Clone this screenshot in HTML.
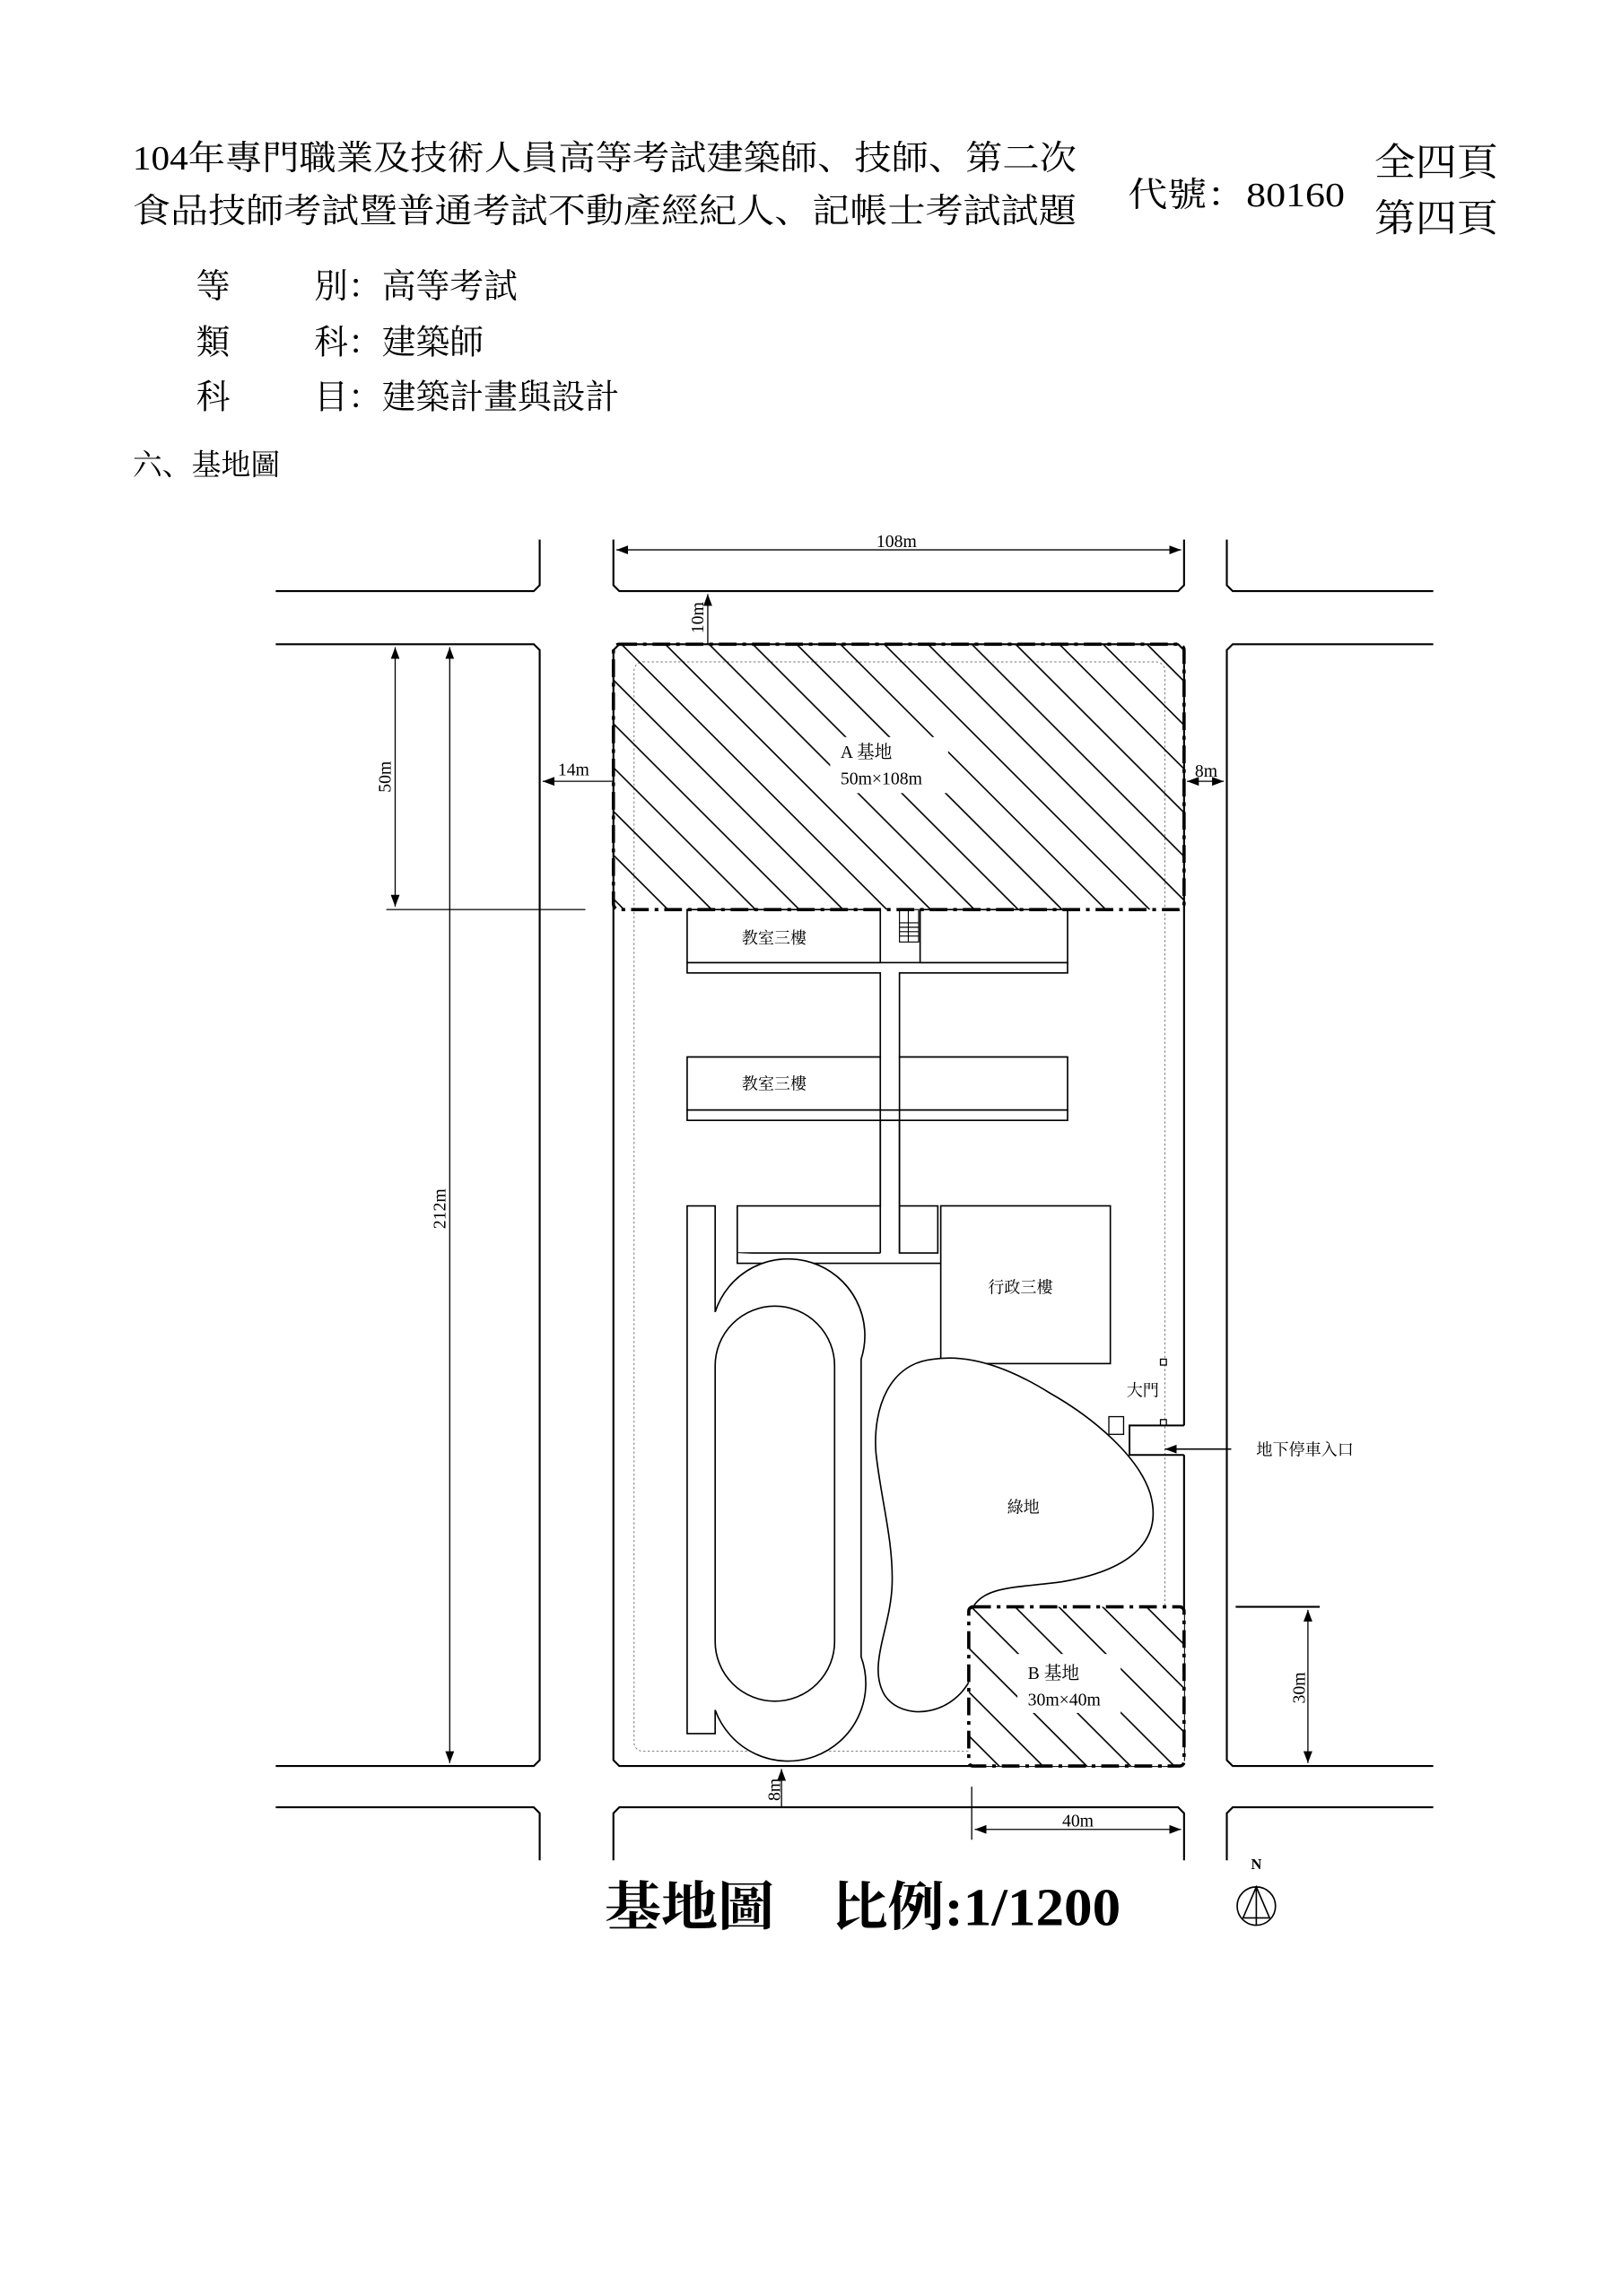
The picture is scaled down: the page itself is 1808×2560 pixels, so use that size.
<!DOCTYPE html>
<html><head><meta charset="utf-8"><style>
html,body{margin:0;padding:0;background:#fff;}
svg{display:block;}
.t{font-family:"Liberation Serif","Noto Serif CJK SC",serif;fill:#000;}
</style></head><body>
<svg width="1808" height="2560" viewBox="0 0 1100 1557.5" xmlns="http://www.w3.org/2000/svg">
<defs>
<pattern id="h" width="21" height="21" patternUnits="userSpaceOnUse" patternTransform="rotate(-45)">
<line x1="10" y1="0" x2="10" y2="21" stroke="#000" stroke-width="1"/>
</pattern>
<marker id="a" markerWidth="8" markerHeight="6" refX="8" refY="3" orient="auto-start-reverse" markerUnits="userSpaceOnUse"><path d="M0,0 L8,3 L0,6 Z" fill="#000"/></marker>
</defs>
<g class="t">
<text x="90" y="115" font-size="23" textLength="640" lengthAdjust="spacingAndGlyphs">104年專門職業及技術人員高等考試建築師、技師、第二次</text>
<text x="90" y="151" font-size="23" textLength="640" lengthAdjust="spacingAndGlyphs">食品技師考試暨普通考試不動產經紀人、記帳士考試試題</text>
<text x="765" y="140" font-size="23" textLength="147" lengthAdjust="spacingAndGlyphs">代號：80160</text>
<text x="932" y="119" font-size="26" textLength="84" lengthAdjust="spacingAndGlyphs">全四頁</text>
<text x="932" y="157" font-size="26" textLength="84" lengthAdjust="spacingAndGlyphs">第四頁</text>
<text x="133" y="202" font-size="23">等</text><text x="213" y="202" font-size="23">別：高等考試</text>
<text x="133" y="240" font-size="23">類</text><text x="213" y="240" font-size="23">科：建築師</text>
<text x="133" y="277" font-size="23">科</text><text x="213" y="277" font-size="23">目：建築計畫與設計</text>
<text x="90" y="322" font-size="20">六、基地圖</text>
</g>
<g fill="none" stroke="#000" stroke-width="1.3">
<!-- top road blocks -->
<path d="M366,366 V397 L362,401 H187"/>
<path d="M416,366 V397 L420,401 H799 L803,397 V366"/>
<path d="M832,366 V397 L836,401 H972"/>
<!-- middle blocks -->
<path d="M187,437 H362 L366,441 V1194 L362,1198 H187"/>
<path d="M803,967 V441 L799,437 H420 L416,441 V1194 L420,1198 H799 L803,1194 V987"/>
<path d="M972,437 H836 L832,441 V1194 L836,1198 H972"/>
<!-- bottom blocks -->
<path d="M187,1226 H362 L366,1230 V1262"/>
<path d="M416,1262 V1230 L420,1226 H799 L803,1230 V1262"/>
<path d="M972,1226 H836 L832,1230 V1262"/>
</g>
<!-- inner dotted line -->
<rect x="430" y="449" width="360" height="739" rx="6" fill="none" stroke="#777" stroke-width="0.6" stroke-dasharray="1.5,1.5"/>
<!-- buildings -->
<g fill="#fff" stroke="#000" stroke-width="1">
<rect x="466" y="617" width="131" height="36"/>
<rect x="624" y="617" width="100" height="36"/>
<path d="M466,653 H724 V660 H610 V717 H724 V753 H610 V760 H597 V753 H466 V717 H597 V660 H466 Z" fill="none"/>
<line x1="597" y1="753" x2="597" y2="717"/><line x1="610" y1="717" x2="610" y2="753"/>
<rect x="466" y="753" width="258" height="7" fill="none"/>
<path d="M597,760 V818 H500 V850 H597"/>
<path d="M610,760 V818 H636 V850 H610 Z"/>
<path d="M597,760 V850 M610,760 V850"/>
<path d="M500,850 V857 H638"/>
<rect x="638" y="818" width="115" height="107"/>
<!-- track -->
<path d="M485,890 A 52 52 0 0 1 584,922 L584,1124 A 50 50 0 0 1 485,1160 L485,1176 L466,1176 L466,818 L485,818 Z"/>
<rect x="485" y="886" width="81" height="268" rx="40.5"/>
<!-- green -->
<path d="M633,922 C 603,925 592,955 594,985 C 597,1015 606,1045 605,1075 C 604,1105 588,1130 600,1150 C 612,1168 648,1165 660,1135 L660,1090 C 668,1076 690,1077 720,1073 C 762,1066 790,1048 780,1013 C 772,988 742,962 712,945 C 688,930 660,918 633,922 Z"/>
</g>
<!-- stairs -->
<g stroke="#000" stroke-width="0.7">
<rect x="610" y="617" width="13" height="22" fill="none"/>
<line x1="610" y1="626" x2="623" y2="626"/><line x1="610" y1="629" x2="623" y2="629"/><line x1="610" y1="632" x2="623" y2="632"/><line x1="610" y1="635" x2="623" y2="635"/><line x1="616" y1="617" x2="616" y2="639"/>
</g>
<!-- A site -->
<rect x="416" y="437" width="387" height="180" fill="url(#h)"/>
<rect x="563" y="500" width="80" height="38" fill="#fff"/>
<rect x="416" y="437" width="387" height="180" rx="4" fill="none" stroke="#000" stroke-width="2.2" stroke-dasharray="12,4,2.5,4"/>
<!-- B site -->
<rect x="657" y="1090" width="146" height="108" fill="#fff"/>
<rect x="657" y="1090" width="146" height="108" fill="url(#h)"/>
<rect x="690" y="1122" width="70" height="40" fill="#fff"/>
<rect x="657" y="1090" width="146" height="108" rx="3" fill="none" stroke="#000" stroke-width="2.2" stroke-dasharray="12,4,2.5,4"/>
<!-- gate -->
<g fill="#fff" stroke="#000" stroke-width="0.8">
<rect x="787" y="922" width="4" height="4"/><rect x="787" y="963" width="4" height="4"/>
<rect x="752" y="961" width="10" height="12"/>
</g>
<path d="M803,967 H766 V987 H803" fill="none" stroke="#000" stroke-width="1.2"/>
<line x1="835" y1="983" x2="790" y2="983" stroke="#000" stroke-width="1" marker-end="url(#a)"/>
<!-- dims -->
<g stroke="#000" stroke-width="0.8" fill="none">
<line x1="418" y1="373" x2="801" y2="373" marker-start="url(#a)" marker-end="url(#a)"/>
<line x1="480" y1="403" x2="480" y2="437" marker-start="url(#a)"/>
<line x1="368" y1="530" x2="416" y2="530" marker-start="url(#a)"/>
<line x1="805" y1="530" x2="830" y2="530" marker-start="url(#a)" marker-end="url(#a)"/>
<line x1="268" y1="439" x2="268" y2="615" marker-start="url(#a)" marker-end="url(#a)"/>
<line x1="262" y1="617" x2="397" y2="617"/>
<line x1="305" y1="439" x2="305" y2="1196" marker-start="url(#a)" marker-end="url(#a)"/>
<line x1="838" y1="1090" x2="895" y2="1090" stroke-width="1.3"/>
<line x1="887" y1="1092" x2="887" y2="1196" marker-start="url(#a)" marker-end="url(#a)"/>
<line x1="659" y1="1212" x2="659" y2="1248"/>
<line x1="661" y1="1241" x2="801" y2="1241" marker-start="url(#a)" marker-end="url(#a)"/>
<line x1="530" y1="1200" x2="530" y2="1226" marker-start="url(#a)"/>
</g>
<g class="t" font-size="12">
<text x="608" y="371" text-anchor="middle">108m</text>
<text transform="translate(477,419) rotate(-90)" text-anchor="middle">10m</text>
<text x="389" y="526" text-anchor="middle">14m</text>
<text x="818" y="527" text-anchor="middle">8m</text>
<text transform="translate(265,527) rotate(-90)" text-anchor="middle">50m</text>
<text transform="translate(302,820) rotate(-90)" text-anchor="middle">212m</text>
<text transform="translate(885,1145) rotate(-90)" text-anchor="middle">30m</text>
<text x="731" y="1239" text-anchor="middle">40m</text>
<text transform="translate(529,1214) rotate(-90)" text-anchor="middle">8m</text>
<text x="570" y="514">A 基地</text>
<text x="570" y="532">50m×108m</text>
<text x="697" y="1139">B 基地</text>
<text x="697" y="1157">30m×40m</text>
<text x="525" y="640" text-anchor="middle" font-size="11">教室三樓</text>
<text x="525" y="739" text-anchor="middle" font-size="11">教室三樓</text>
<text x="692" y="877" text-anchor="middle" font-size="11">行政三樓</text>
<text x="694" y="1026" text-anchor="middle" font-size="11">綠地</text>
<text x="775" y="947" text-anchor="middle" font-size="11">大門</text>
<text x="852" y="987" font-size="11">地下停車入口</text>
<text x="852" y="1268" text-anchor="middle" font-size="10" font-weight="bold">N</text>
</g>
<g fill="none" stroke="#000" stroke-width="1">
<circle cx="852" cy="1293" r="13"/>
<path d="M852,1280 L843,1301 H861 Z"/>
<line x1="852" y1="1280" x2="852" y2="1306"/>
</g>
<text class="t" x="410" y="1306" font-size="36" font-weight="bold" textLength="350" lengthAdjust="spacingAndGlyphs">基地圖　比例:1/1200</text>
</svg>
</body></html>
